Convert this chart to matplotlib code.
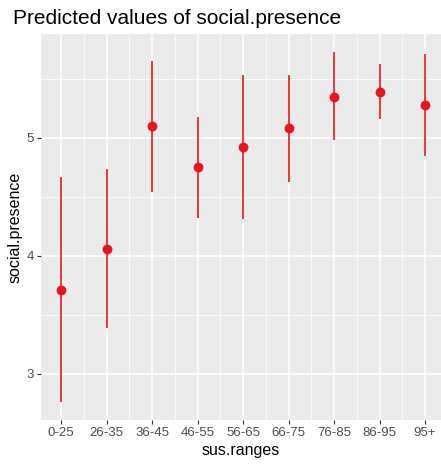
import matplotlib.pyplot as plt
import numpy as np

# predicted values with confidence intervals
sus_ranges = ['0-25', '26-35', '36-45', '46-55', '56-65', '66-75', '76-85', '86-95', '95+']
predicted = [3.71, 4.06, 5.10, 4.75, 4.92, 5.08, 5.35, 5.39, 5.28]
conf_low = [2.76, 3.39, 4.54, 4.32, 4.31, 4.63, 4.98, 5.16, 4.85]
conf_high = [4.67, 4.74, 5.65, 5.18, 5.53, 5.53, 5.73, 5.63, 5.71]


def plot():
    """Plot predicted values in ggplot style"""
    plt.rcParams['font.family'] = ['Liberation Sans', 'DejaVu Sans']
    fig = plt.figure(figsize=(4.41, 4.66), dpi=100)
    ax = fig.add_axes([41 / 441, 1 - 420 / 466, 400 / 441, 386 / 466])
    ax.set_facecolor('#EBEBEB')
    for side in ax.spines.values():
        side.set_visible(False)

    x = np.arange(1, len(sus_ranges) + 1)
    red = '#E8161C'
    ax.vlines(x, conf_low, conf_high, color=red, lw=1.2, zorder=3)
    ax.scatter(x, predicted, s=50, color=red, zorder=4, linewidths=0)

    ax.set_xlim(0.56, 9.35)
    ax.set_ylim(2.61, 5.88)
    ax.set_xticks(x)
    ax.set_xticklabels(sus_ranges)
    ax.set_xticks(x[:-1] + 0.5, minor=True)
    ax.set_yticks([3, 4, 5])
    ax.set_yticks([3.5, 4.5, 5.5], minor=True)

    ax.grid(which='major', color='white', lw=1.1)
    ax.grid(which='minor', color='white', lw=0.55)
    ax.set_axisbelow(True)
    ax.tick_params(which='major', length=3, width=0.8, color='#333333',
                   labelsize=9.5, labelcolor='#4D4D4D', pad=2)
    ax.tick_params(which='minor', length=0)

    ax.set_xlabel('sus.ranges', fontsize=11.5, labelpad=3)
    ax.set_ylabel('social.presence', fontsize=11.5, labelpad=3)
    fig.text(13 / 441, 1 - 18 / 466, 'Predicted values of social.presence',
             fontsize=15, va='center', ha='left')

    fig.savefig('out.png', dpi=100)


if __name__ == "__main__":
    plot()
